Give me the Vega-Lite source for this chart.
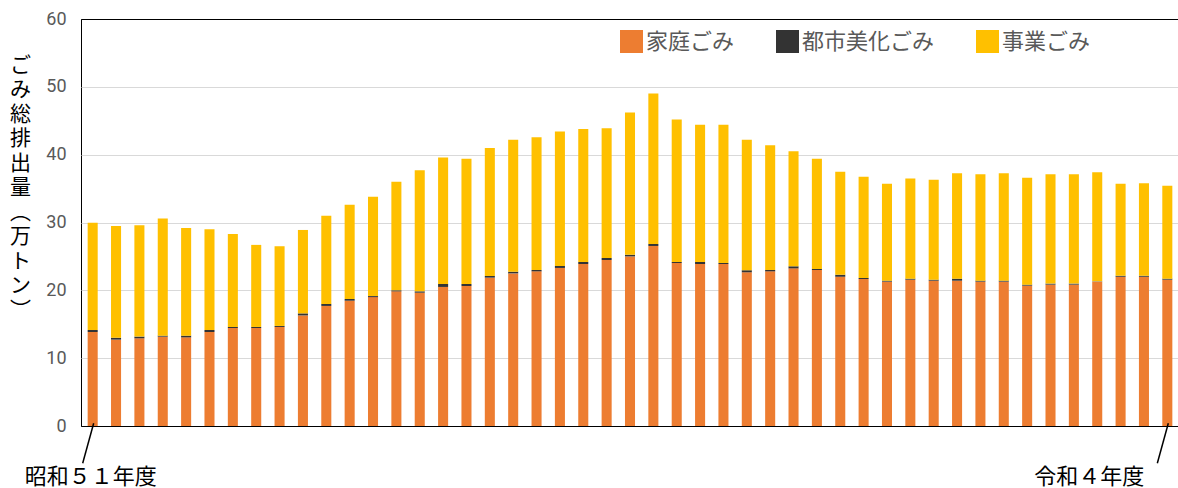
{
  "$schema": "https://vega.github.io/schema/vega-lite/v6.json",
  "width": 1098,
  "height": 407,
  "autosize": "none",
  "padding": {"left": 81, "top": 19, "right": 0, "bottom": 62},
  "background": "#ffffff",
  "config": {"view": {"stroke": "#000000", "strokeWidth": 1}, "font": "Noto Sans CJK JP"},
  "layer": [
    {
      "data": {"values": [
        {"年度": 1976, "家庭ごみ": 13.86, "都市美化ごみ": 0.28, "事業ごみ": 15.83},
        {"年度": 1977, "家庭ごみ": 12.73, "都市美化ごみ": 0.28, "事業ごみ": 16.49},
        {"年度": 1978, "家庭ごみ": 12.93, "都市美化ごみ": 0.25, "事業ごみ": 16.42},
        {"年度": 1979, "家庭ごみ": 13.17, "都市美化ごみ": 0.15, "事業ごみ": 17.28},
        {"年度": 1980, "家庭ごみ": 13.07, "都市美化ごみ": 0.25, "事業ごみ": 15.88},
        {"年度": 1981, "家庭ごみ": 13.86, "都市美化ごみ": 0.3, "事業ごみ": 14.84},
        {"年度": 1982, "家庭ごみ": 14.45, "都市美化ごみ": 0.15, "事業ごみ": 13.7},
        {"年度": 1983, "家庭ごみ": 14.45, "都市美化ごみ": 0.15, "事業ごみ": 12.1},
        {"年度": 1984, "家庭ごみ": 14.6, "都市美化ごみ": 0.15, "事業ごみ": 11.75},
        {"年度": 1985, "家庭ごみ": 16.3, "都市美化ごみ": 0.3, "事業ごみ": 12.3},
        {"年度": 1986, "家庭ごみ": 17.7, "都市美化ごみ": 0.3, "事業ごみ": 13.0},
        {"年度": 1987, "家庭ごみ": 18.47, "都市美化ごみ": 0.25, "事業ごみ": 13.88},
        {"年度": 1988, "家庭ごみ": 19.0, "都市美化ごみ": 0.15, "事業ごみ": 14.65},
        {"年度": 1989, "家庭ごみ": 19.85, "都市美化ごみ": 0.15, "事業ごみ": 16.0},
        {"年度": 1990, "家庭ごみ": 19.65, "都市美化ごみ": 0.2, "事業ごみ": 17.85},
        {"年度": 1991, "家庭ごみ": 20.5, "都市美化ごみ": 0.45, "事業ごみ": 18.65},
        {"年度": 1992, "家庭ごみ": 20.64, "都市美化ごみ": 0.3, "事業ごみ": 18.46},
        {"年度": 1993, "家庭ごみ": 21.87, "都市美化ごみ": 0.25, "事業ごみ": 18.88},
        {"年度": 1994, "家庭ごみ": 22.5, "都市美化ごみ": 0.25, "事業ごみ": 19.45},
        {"年度": 1995, "家庭ごみ": 22.8, "都市美化ごみ": 0.2, "事業ごみ": 19.55},
        {"年度": 1996, "家庭ごみ": 23.3, "都市美化ごみ": 0.3, "事業ごみ": 19.8},
        {"年度": 1997, "家庭ごみ": 23.88, "都市美化ごみ": 0.3, "事業ごみ": 19.62},
        {"年度": 1998, "家庭ごみ": 24.47, "都市美化ごみ": 0.3, "事業ごみ": 19.13},
        {"年度": 1999, "家庭ごみ": 25.0, "都市美化ごみ": 0.25, "事業ごみ": 20.95},
        {"年度": 2000, "家庭ごみ": 26.54, "都市美化ごみ": 0.3, "事業ごみ": 22.16},
        {"年度": 2001, "家庭ごみ": 24.03, "都市美化ごみ": 0.15, "事業ごみ": 21.02},
        {"年度": 2002, "家庭ごみ": 23.88, "都市美化ごみ": 0.3, "事業ごみ": 20.22},
        {"年度": 2003, "家庭ごみ": 23.88, "都市美化ごみ": 0.15, "事業ごみ": 20.37},
        {"年度": 2004, "家庭ごみ": 22.66, "都市美化ごみ": 0.3, "事業ごみ": 19.24},
        {"年度": 2005, "家庭ごみ": 22.8, "都市美化ごみ": 0.2, "事業ごみ": 18.4},
        {"年度": 2006, "家庭ごみ": 23.24, "都市美化ごみ": 0.3, "事業ごみ": 16.96},
        {"年度": 2007, "家庭ごみ": 23.0, "都市美化ごみ": 0.15, "事業ごみ": 16.25},
        {"年度": 2008, "家庭ごみ": 22.0, "都市美化ごみ": 0.3, "事業ごみ": 15.2},
        {"年度": 2009, "家庭ごみ": 21.67, "都市美化ごみ": 0.15, "事業ごみ": 14.93},
        {"年度": 2010, "家庭ごみ": 21.28, "都市美化ごみ": 0.15, "事業ごみ": 14.27},
        {"年度": 2011, "家庭ごみ": 21.57, "都市美化ごみ": 0.15, "事業ごみ": 14.78},
        {"年度": 2012, "家庭ごみ": 21.42, "都市美化ごみ": 0.15, "事業ごみ": 14.73},
        {"年度": 2013, "家庭ごみ": 21.42, "都市美化ごみ": 0.3, "事業ごみ": 15.53},
        {"年度": 2014, "家庭ごみ": 21.28, "都市美化ごみ": 0.15, "事業ごみ": 15.67},
        {"年度": 2015, "家庭ごみ": 21.28, "都市美化ごみ": 0.15, "事業ごみ": 15.82},
        {"年度": 2016, "家庭ごみ": 20.69, "都市美化ごみ": 0.15, "事業ごみ": 15.76},
        {"年度": 2017, "家庭ごみ": 20.84, "都市美化ごみ": 0.15, "事業ごみ": 16.11},
        {"年度": 2018, "家庭ごみ": 20.84, "都市美化ごみ": 0.15, "事業ごみ": 16.11},
        {"年度": 2019, "家庭ごみ": 21.28, "都市美化ごみ": 0.05, "事業ごみ": 16.07},
        {"年度": 2020, "家庭ごみ": 22.0, "都市美化ごみ": 0.15, "事業ごみ": 13.55},
        {"年度": 2021, "家庭ごみ": 22.0, "都市美化ごみ": 0.15, "事業ごみ": 13.65},
        {"年度": 2022, "家庭ごみ": 21.57, "都市美化ごみ": 0.15, "事業ごみ": 13.68}
      ]},
      "transform": [{"fold": ["家庭ごみ", "都市美化ごみ", "事業ごみ"], "as": ["区分", "量"]}],
      "mark": {"type": "bar"},
      "encoding": {
        "x": {"field": "年度", "type": "ordinal", "axis": null, "scale": {"paddingInner": 0.57, "paddingOuter": 0.285}},
        "y": {
          "field": "量", "type": "quantitative", "stack": "zero",
          "scale": {"domain": [0, 60], "nice": false},
          "axis": {
            "title": ["ご", "み", "総", "排", "出", "量", "︵", "万", "ト", "ン", "︶"],
            "titleAngle": 0, "titleX": -61, "titleY": 35, "titleAlign": "center", "titleBaseline": "top",
            "titleFontSize": 21, "titleFontWeight": "normal", "titleColor": "#000000", "titleLineHeight": 24.5,
            "titleFont": "Noto Sans CJK JP",
            "values": [0, 10, 20, 30, 40, 50, 60],
            "labelFont": "Roboto", "labelFontSize": 18, "labelColor": "#595959", "labelPadding": 15,
            "ticks": false, "domain": false, "grid": true,
            "gridColor": {"condition": {"test": "datum.value === 0 || datum.value === 60", "value": "#000000"}, "value": "#d9d9d9"},
            "gridWidth": 1
          }
        },
        "order": {"field": "年度", "type": "quantitative"},
        "color": {
          "field": "区分", "type": "nominal",
          "scale": {"domain": ["家庭ごみ", "都市美化ごみ", "事業ごみ"], "range": ["#ED7D31", "#333333", "#FFC000"]},
          "legend": {
            "orient": "none", "legendX": 539, "legendY": 11, "direction": "horizontal", "title": null,
            "symbolType": "square", "symbolSize": 529, "symbolStrokeWidth": 0,
            "labelFontSize": 22, "labelColor": "#595959", "labelFont": "Noto Sans CJK JP",
            "labelOffset": 3, "columnPadding": 41, "padding": 0, "labelLimit": 300
          }
        }
      }
    },
    {
      "data": {"values": [{"年度": 1976}, {"年度": 2022}]},
      "mark": {"type": "rule", "color": "#000000", "strokeWidth": 1.5, "xOffset": 1, "x2Offset": -10},
      "encoding": {
        "x": {"field": "年度", "type": "ordinal"},
        "x2": {"field": "年度"},
        "y": {"datum": 0.4, "type": "quantitative"},
        "y2": {"datum": -5.5}
      }
    },
    {
      "data": {"values": [{"年度": 1976, "注記": "昭和５１年度"}]},
      "mark": {"type": "text", "align": "center", "baseline": "middle", "dx": -2, "fontSize": 22, "color": "#000000", "font": "Noto Sans CJK JP"},
      "encoding": {
        "x": {"field": "年度", "type": "ordinal"},
        "y": {"datum": -7.5, "type": "quantitative"},
        "text": {"field": "注記"}
      }
    },
    {
      "data": {"values": [{"年度": 2022, "注記": "令和４年度"}]},
      "mark": {"type": "text", "align": "right", "baseline": "middle", "dx": -23, "fontSize": 22, "color": "#000000", "font": "Noto Sans CJK JP"},
      "encoding": {
        "x": {"field": "年度", "type": "ordinal"},
        "y": {"datum": -7.5, "type": "quantitative"},
        "text": {"field": "注記"}
      }
    }
  ]
}
